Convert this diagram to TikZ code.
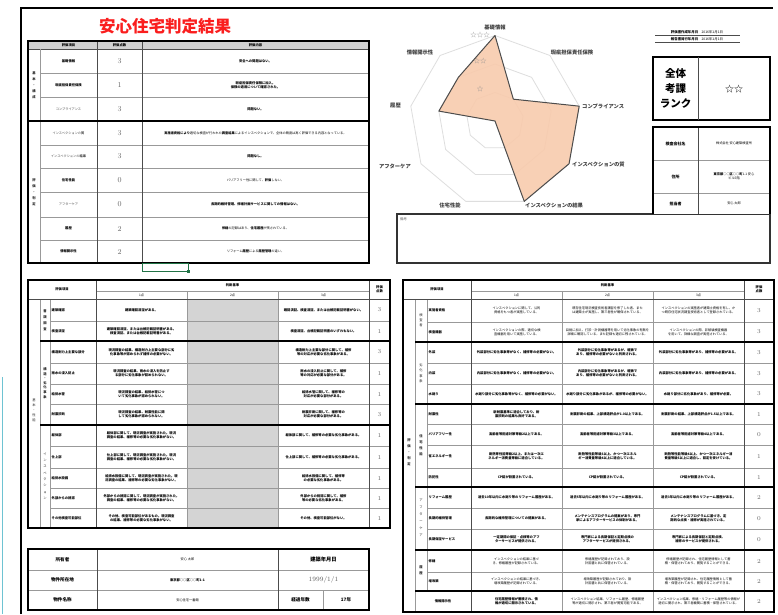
\documentclass[tikz,border=0pt]{standalone}
\usepackage{fontspec}
\newfontfamily\jp{Noto Sans CJK JP}
\XeTeXlinebreaklocale "ja"
\XeTeXlinebreakskip=0pt
\definecolor{peach}{HTML}{F8CBAD}
\definecolor{cyanbar}{RGB}{110,195,210}
\definecolor{selgreen}{RGB}{33,115,70}
\definecolor{titlered}{RGB}{250,30,30}
\newcommand\LRow[6]{%
 \fill[black!17] (187,#1) rectangle (278,#2);
 \node[txb,anchor=west,text width=44pt,align=left] (li#1) at (51.5,{(#1+#2)/2}) {#3};
 \node[cell,text width=80pt] (la#1) at (141.5,{(#1+#2)/2}) {#4};
 \node[cell,text width=80pt] (lc#1) at (323.5,{(#1+#2)/2}) {#5};
 \node[num] (ls#1) at (379.5,{(#1+#2)/2}) {#6};}
\newcommand\RRow[7]{%
 \node[txb,anchor=west,text width=42pt,align=left] (ri#1) at (428.5,{(#1+#2)/2}) {#3};
 \node[cell,text width=84pt] (ra#1) at (516.5,{(#1+#2)/2}) {#4};
 \node[cell,text width=84pt] (rb#1) at (607.5,{(#1+#2)/2}) {#5};
 \node[cell,text width=84pt] (rc#1) at (698.5,{(#1+#2)/2}) {#6};
 \node[num] (rs#1) at (759,{(#1+#2)/2}) {#7};}
\begin{document}
\begin{tikzpicture}[x=1pt,y=-1pt,
  tx/.style={font=\jp\fontsize{3.2}{4.1}\selectfont,inner sep=0pt,align=center,text=black},
  txb/.style={font=\jp\bfseries\fontsize{3.3}{4.1}\selectfont,inner sep=0pt,align=center,text=black},
  cell/.style={txb},
  vt/.style={font=\jp\bfseries\fontsize{3.3}{6}\selectfont,inner sep=0pt,align=center,text=black!85},
  num/.style={font=\fontsize{6}{7}\selectfont,inner sep=0pt,text=black!60},
  bignum/.style={font=\fontsize{7.5}{8}\selectfont,inner sep=0pt,text=black!60},
  rlab/.style={font=\jp\bfseries\fontsize{5.3}{6}\selectfont,inner sep=0pt,text=black!75},
  tline/.style={line width=1.6pt,black},
  mline/.style={line width=0.9pt,black!70},
  gline/.style={line width=0.6pt,black!40},
  ring/.style={line width=0.8pt,black!13},
  ]
\useasboundingbox (0,0) rectangle (778,614);
\fill[white] (0,0) rectangle (778,614);
% page frame
\draw[line width=2pt] (21,614) -- (21,8) -- (773,8);
\draw[line width=1.4pt,cyanbar] (2.5,377) -- (2.5,614);

% title
\node[font=\jp\bfseries\fontsize{16.5}{18}\selectfont,text=titlered,inner sep=0] (title) at (165,26) {安心住宅判定結果};

% ===== top-left score table
\fill[black!18] (28,41) rectangle (369,49);
\node[txb] (h1) at (68.5,45) {評価項目};
\node[txb] (h2) at (119.5,45) {評価点数};
\node[txb] (h3) at (255.5,45) {評価内容};
\node[vt] (tg1) at (34,85) {基\\本\\・\\構\\成};
\node[vt] (tg2) at (34,192) {評\\価\\・\\判\\定};
\node[txb] (ti1) at (68.5,61) {基礎情報};
\node[txb] (ti2) at (68.5,85) {瑕疵担保責任保険};
\node[tx,text=black!70] (ti3) at (68.5,109) {コンプライアンス};
\node[tx,text=black!70] (ti4) at (68.5,133) {インスペクションの\textbf{質}};
\node[tx,text=black!70] (ti5) at (68.5,156.5) {インスペクションの\textbf{結果}};
\node[txb] (ti6) at (68.5,180) {住宅性能};
\node[tx,text=black!70] (ti7) at (68.5,204.5) {アフターケア};
\node[txb] (ti8) at (68.5,228.5) {履歴};
\node[txb] (ti9) at (68.5,251.5) {情報開示性};
\foreach \yy/\v [count=\i] in {61/3,85/1,109/3,133/3,156.5/3,180/0,204.5/0,228.5/2,251.5/2}
  \node[bignum] (ts\i) at (119.5,\yy) {\v};
\node[txb] (td1) at (255.5,61) {安全への問題はない。};
\node[txb] (td2) at (255.5,85) {瑕疵担保責任保険に加入。\\保険の適用について確認された。};
\node[txb] (td3) at (255.5,109) {問題ない。};
\node[tx,text width=222pt] (td4) at (255.5,133) {\textbf{実施者資格により}適切な検査が行われた\textbf{調査結果}によるインスペクションで、全体の精度は高く評価できる内容となっている。};
\node[txb] (td5) at (255.5,156.5) {問題なし。};
\node[tx] (td6) at (255.5,180) {バリアフリー性に関して、\textbf{評価}しない。};
\node[txb] (td7) at (255.5,204.5) {長期的維持管理、修繕計画サービスに関しての情報はない。};
\node[tx] (td8) at (255.5,228.5) {\textbf{修繕}の記録はあり、\textbf{住宅履歴}が残されている。};
\node[tx] (td9) at (255.5,251.5) {リフォーム\textbf{履歴}による\textbf{履歴管理}の違い。};
\foreach \yy in {73,97,145,168,192,217,240} \draw[gline] (40,\yy) -- (369,\yy);
\draw[mline] (28,49) -- (369,49);
\draw[gline] (40,49) -- (40,263);
\draw[mline] (97,41) -- (97,263);
\draw[mline] (142,41) -- (142,263);
\draw[tline] (28,121) -- (369,121);
\draw[tline] (28,41) rectangle (369,263);
% excel selection
\draw[line width=1pt,selgreen] (142,263) rectangle (188,271);
\fill[selgreen] (186.5,269.5) rectangle (190,273);

% ===== radar chart
\begin{scope}[shift={(495,121)},y=1pt]
 \foreach \r in {28.5,57,85.5}
   \draw[ring] (90:\r) -- (50:\r) -- (10:\r) -- (-30:\r) -- (-70:\r) -- (-110:\r) -- (-150:\r) -- (-190:\r) -- (-230:\r) -- cycle;
 \fill[peach,fill opacity=0.9] (90:85.5) -- (50:28.5) -- (10:85.5) -- (-30:85.5) -- (-70:85.5) -- (0,0) -- (170:57) -- (130:57) -- cycle;
 \draw[line width=1pt,black!70,line join=round] (90:85.5) -- (50:28.5) -- (10:85.5) -- (-30:85.5) -- (-70:85.5) -- (0,0) -- (170:57) -- (130:57) -- cycle;
\end{scope}
\node[font=\jp\fontsize{6.5}{7}\selectfont,text=black!45,inner sep=0] (st3) at (480,35) {☆☆☆};
\node[font=\jp\fontsize{6.5}{7}\selectfont,text=black!45,inner sep=0] (st2) at (480,61) {☆☆};
\node[font=\jp\fontsize{6.5}{7}\selectfont,text=black!45,inner sep=0] (st1) at (480,89) {☆};
\node[rlab] (ax1) at (495,27) {基礎情報};
\node[rlab] (ax2) at (572,52) {瑕疵担保責任保険};
\node[rlab,anchor=west] (ax3) at (582,106) {コンプライアンス};
\node[rlab,anchor=west] (ax4) at (572,164) {インスペクションの質};
\node[rlab,anchor=west] (ax5) at (525,205) {インスペクションの結果};
\node[rlab] (ax6) at (450,205) {住宅性能};
\node[rlab,anchor=east] (ax7) at (411,166) {アフターケア};
\node[rlab,anchor=east] (ax8) at (401,106) {履歴};
\node[rlab] (ax9) at (420,52) {情報開示性};

% ===== top right
\node[font=\jp\fontsize{3.4}{4}\selectfont,inner sep=0] (dt1) at (697,32.5) {\textbf{評価書作成年月日}　2016年1月1日};
\node[font=\jp\fontsize{3.4}{4}\selectfont,inner sep=0] (dt2) at (697,39.5) {\textbf{報告書発行年月日}　2016年1月1日};
\draw[line width=0.6pt,black!70] (655,35.5) -- (740,35.5);
\draw[line width=0.6pt,black!70] (655,42.5) -- (740,42.5);
\draw[tline] (653,57) rectangle (770,120);
\draw[mline] (698,57) -- (698,120);
\node[font=\jp\bfseries\fontsize{10.5}{15}\selectfont,align=center,inner sep=0] (rk) at (675.5,88.5) {全体\\考課\\ランク};
\node[font=\jp\fontsize{9}{10}\selectfont,inner sep=0] (rkv) at (734,89) {☆☆};
% comment box
\draw[line width=1.2pt,black!80] (397,214) rectangle (770,263);
\node[font=\jp\fontsize{3.4}{4}\selectfont,text=black!60,inner sep=0,anchor=north west] (cm) at (400,217) {備考};
% company box
\fill[white] (653,127) rectangle (770,214);
\draw[gline] (653,160) -- (770,160);
\draw[gline] (653,193) -- (770,193);
\draw[mline] (698,127) -- (698,214);
\draw[tline] (653,214) -- (653,127) -- (770,127) -- (770,214);
\node[font=\jp\bfseries\fontsize{4}{5}\selectfont,inner sep=0] (cl1) at (675.5,143.5) {検査会社名};
\node[font=\jp\bfseries\fontsize{4}{5}\selectfont,inner sep=0] (cl2) at (675.5,176.5) {住所};
\node[font=\jp\bfseries\fontsize{4}{5}\selectfont,inner sep=0] (cl3) at (675.5,203.5) {担当者};
\node[tx] (cv1) at (734,143.5) {株式会社 安心建築検査所};
\node[tx] (cv2) at (734,176.5) {\textbf{東京都○○区○○町}1-1 安心\\ビル5階};
\node[tx] (cv3) at (734,203.5) {安心 太郎};

% ===== bottom-left criteria table
\node[txb] (lh1) at (62,289.5) {評価項目};
\node[txb] (lh2) at (232.5,285.5) {判断基準};
\node[tx] (lh3) at (141.5,295) {1点};
\node[tx] (lh4) at (232.5,295) {2点};
\node[tx] (lh5) at (323.5,295) {3点};
\node[txb] (lh6) at (379.5,289.5) {評価\\点数};
\LRow{299}{321}{建築確認}{建築確認済証がある。}{確認済証、検査済証、または台帳記載証明書がない。}{3}
\LRow{321}{341}{検査済証}{建築確認済証、または台帳記載証明書がある。検査済証、または台帳記載証明書がある。}{検査済証、台帳記載証明書のいずれもない。}{1}
\LRow{341}{363}{構造耐力上主要な部分}{現況調査の結果、構造耐力上主要な部分に劣化事象等が認められず補修の必要がない。}{構造耐力上主要な部分に関して、補修等の対応が必要な劣化事象がある。}{3}
\LRow{363}{384}{雨水の浸入防止}{現況調査の結果、雨水の浸入を防止する部分に劣化事象が認められない。}{雨水の浸入防止に関して、補修等の対応が必要な部分がある。}{1}
\LRow{384}{404}{給排水管}{現況調査の結果、給排水管について劣化事象が認められない。}{給排水管に関して、補修等の対応が必要な部分がある。}{1}
\LRow{404}{425}{耐震診断}{現況調査の結果、耐震性能に関して劣化事象が認められない。}{耐震診断に関して、補修等の対応が必要な部分がある。}{3}
\LRow{425}{446}{躯体部}{躯体部に関して、現況調査が実施された。現況調査の結果、補修等の必要な劣化事象がない。}{躯体部に関して、補修等の必要な劣化事象がある。}{1}
\LRow{446}{468}{仕上部}{仕上部に関して、現況調査が実施された。現況調査の結果、補修等の必要な劣化事象がない。}{仕上部に関して、補修等の必要な劣化事象がある。}{1}
\LRow{468}{488}{給排水設備}{給排水設備に関して、現況調査が実施された。現況調査の結果、補修等の必要な劣化事象がない。}{給排水設備に関して、補修等の必要な劣化事象がある。}{1}
\LRow{488}{508}{外部からの視認}{外部からの視認に関して、現況調査が実施された。調査の結果、補修等の必要な劣化事象がない。}{外部からの視認に関して、補修等の必要な劣化事象がある。}{1}
\LRow{508}{528}{その他検査可能部位}{その他、検査可能部位があるもの。現況調査の結果、補修等の必要な劣化事象がない。}{その他、検査可能部位がない。}{1}
\node[vt] (lg1) at (45,320) {書\\類\\調\\査};
\node[vt,font=\jp\bfseries\fontsize{3.3}{4.6}\selectfont] (lg2) at (45,383) {構\\造\\・\\劣\\化\\事\\象};
\node[vt,font=\jp\fontsize{3.3}{6.3}\selectfont] (lg3) at (45,476) {イ\\ン\\ス\\ペ\\ク\\シ\\ョ\\ン};
\node[vt,font=\jp\fontsize{3.3}{5}\selectfont] (lg0) at (34,410) {基\\本\\・\\性\\能};
\draw[gline] (96,291) -- (369,291);
\foreach \yy in {321,363,384,404,446,468,488,508} \draw[gline] (50,\yy) -- (390,\yy);
\draw[gline] (40,299) -- (40,528);
\draw[gline] (50,299) -- (50,528);
\draw[gline] (187,291) -- (187,528);
\draw[gline] (278,291) -- (278,528);
\draw[mline] (28,299) -- (390,299);
\draw[mline] (96,280) -- (96,528);
\draw[mline] (369,280) -- (369,528);
\draw[tline] (40,341) -- (390,341);
\draw[tline] (40,425) -- (390,425);
\draw[tline] (28,280) rectangle (390,528);

% ===== bottom-left property table
\draw[gline] (28,570) -- (369,570);
\draw[gline] (28,590) -- (369,590);
\draw[mline] (97,549) -- (97,610);
\draw[mline] (278,549) -- (278,610);
\draw[gline] (323,590) -- (323,610);
\draw[tline] (28,549) rectangle (369,610);
\node[font=\jp\bfseries\fontsize{4.6}{5}\selectfont,inner sep=0] (p1) at (62.5,559.5) {所有者};
\node[font=\jp\bfseries\fontsize{4.6}{5}\selectfont,inner sep=0] (p2) at (62.5,580) {物件所在地};
\node[font=\jp\bfseries\fontsize{4.6}{5}\selectfont,inner sep=0] (p3) at (62.5,600) {物件名称};
\node[tx] (p4) at (187.5,559.5) {安心 太郎};
\node[txb] (p5) at (187.5,580) {東京都○○区○○町1-1};
\node[tx] (p6) at (187.5,600) {安心住宅一番館};
\node[font=\jp\bfseries\fontsize{5.3}{6}\selectfont,inner sep=0] (p7) at (323.5,559.5) {建築年月日};
\node[font=\fontsize{6.5}{7}\selectfont,text=black!65,inner sep=0] (p8) at (323.5,580) {1999/1/1};
\node[font=\jp\bfseries\fontsize{4.6}{5}\selectfont,inner sep=0] (p9) at (300.5,600) {経過年数};
\node[font=\jp\bfseries\fontsize{4.6}{5}\selectfont,inner sep=0] (p10) at (346,600) {17年};

% ===== bottom-right criteria table
\node[txb] (rh1) at (437,289.5) {評価項目};
\node[txb] (rh2) at (607.5,285.5) {判断基準};
\node[tx] (rh3) at (516.5,295) {1点};
\node[tx] (rh4) at (607.5,295) {2点};
\node[tx] (rh5) at (698.5,295) {3点};
\node[txb] (rh6) at (759,289.5) {評価\\点数};
\tikzset{cell/.style={tx}}
\RRow{299}{322}{実施者資格}{インスペクションに関して、公的資格をもつ者が実施している。}{既存住宅現況検査技術者講習を修了した者、または建築士が実施し、第三者性が確保されている。}{インスペクションの実施者が建築士資格を有し、かつ既存住宅状況調査技術者として登録されている。}{3}
\RRow{322}{342}{検査機器}{インスペクションの際、適切な検査機器を用いて実施している。}{目視に加え、打診・計測機器等を用いて劣化事象の有無を詳細に確認している。また記録も適切に残されている。}{インスペクションの際、非破壊検査機器を用いて、詳細な調査が実施されている。}{3}
\tikzset{cell/.style={txb}}
\RRow{342}{363}{外装}{外装部分に劣化事象等がなく、補修等の必要がない。}{外装部分に劣化事象等があるが、軽微であり、補修等の必要がないと判断される。}{外装部分に劣化事象等があり、補修等の必要がある。}{3}
\RRow{363}{384}{内装}{内装部分に劣化事象等がなく、補修等の必要がない。}{内装部分に劣化事象等があるが、軽微であり、補修等の必要がないと判断される。}{内装部分に劣化事象等があり、補修等の必要がある。}{3}
\RRow{384}{404}{水廻り}{水廻り部分に劣化事象等がなく、補修等の必要がない。}{水廻り部分に劣化事象があるが、補修等の必要がない。}{水廻り部分に劣化事象があり、補修等が必要。}{3}
\RRow{404}{424}{耐震性}{新耐震基準に適合しており、耐震診断の結果も良好である。}{耐震診断の結果、上部構造評点が1.0以上である。}{耐震診断の結果、上部構造評点が1.5以上である。}{1}
\RRow{424}{445}{バリアフリー性}{高齢者等配慮対策等級2以上である。}{高齢者等配慮対策等級3以上である。}{高齢者等配慮対策等級4以上である。}{0}
\RRow{445}{468}{省エネルギー性}{断熱等性能等級2以上、または一次エネルギー消費量等級に適合している。}{断熱等性能等級3以上、かつ一次エネルギー消費量等級4以上に適合している。}{断熱等性能等級4以上、かつ一次エネルギー消費量等級5以上に適合し、認定を受けている。}{1}
\RRow{468}{487}{防犯性}{CP錠が設置されている。}{CP錠が設置されている。}{CP錠が設置されている。}{1}
\RRow{487}{508}{リフォーム履歴}{過去10年以内に水廻り等のリフォーム履歴がある。}{過去5年以内に水廻り等のリフォーム履歴がある。}{過去3年以内に水廻り等のリフォーム履歴がある。}{2}
\RRow{508}{529}{長期的維持管理}{長期的な維持管理についての提案がある。}{メンテナンスプログラムの提案があり、専門家によるアフターサービスの体制がある。}{メンテナンスプログラムに基づき、定期的な点検・補修が実施されている。}{0}
\RRow{529}{550}{長期保証サービス}{一定期間の保証・点検等のアフターサービスが提供される。}{専門家による長期保証と定期点検のアフターサービスが提供される。}{専門家による長期保証と定期点検、補修のサービスが提供される。}{0}
\tikzset{cell/.style={tx}}
\RRow{550}{572}{修繕}{インスペクションの結果に基づき、修繕履歴が記録されている。}{修繕履歴が記録されており、設計図書と共に保管されている。}{修繕履歴が記録され、住宅履歴情報として蓄積・保管されており、閲覧することができる。}{2}
\RRow{572}{591}{増改築}{インスペクションの結果に基づき、増改築履歴が記録されている。}{増改築履歴が記録されており、設計図書と共に保管されている。}{増改築履歴が記録され、住宅履歴情報として蓄積・保管されており、閲覧することができる。}{2}
\node[txb,text width=84pt] (ra591) at (516.5,601.5) {住宅履歴情報が蓄積され、情報が適切に開示されている。};
\node[tx,text width=84pt] (rb591) at (607.5,601.5) {インスペクション結果、リフォーム履歴、修繕履歴等が適切に開示され、第三者が閲覧可能である。};
\node[tx,text width=84pt] (rc591) at (698.5,601.5) {インスペクション結果、修繕・リフォーム履歴等の情報が適切に開示され、第三者機関に蓄積・保管されている。};
\node[num] (rs591) at (759,601.5) {2};
\node[txb] (ri591) at (443,601.5) {情報開示性};
\node[vt,font=\jp\fontsize{3.3}{5}\selectfont] (rg1) at (421,320) {検\\査\\者};
\node[vt,font=\jp\fontsize{3.3}{5.5}\selectfont] (rg2) at (421,373) {劣\\化\\事\\象};
\node[vt] (rg3) at (421,445) {住\\宅\\性\\能};
\node[vt,font=\jp\fontsize{3.3}{7}\selectfont] (rg4) at (421,518) {ア\\フ\\タ\\ー\\ケ\\ア};
\node[vt] (rg5) at (421,570) {履\\歴};
\node[vt] (rg0) at (409,452) {評\\価\\・\\判\\定};
\draw[gline] (471,291) -- (744,291);
\foreach \yy in {322,363,384,424,445,468,508,529,572} \draw[gline] (427,\yy) -- (774,\yy);
\draw[gline] (415,299) -- (415,612);
\draw[gline] (427,299) -- (427,591);
\draw[gline] (562,291) -- (562,612);
\draw[gline] (653,291) -- (653,612);
\draw[mline] (403,299) -- (774,299);
\draw[mline] (471,280) -- (471,612);
\draw[mline] (744,280) -- (744,612);
\foreach \yy in {342,404,487,550,591} \draw[tline] (415,\yy) -- (774,\yy);
\draw[tline] (403,280) rectangle (774,612);
\end{tikzpicture}
\end{document}
